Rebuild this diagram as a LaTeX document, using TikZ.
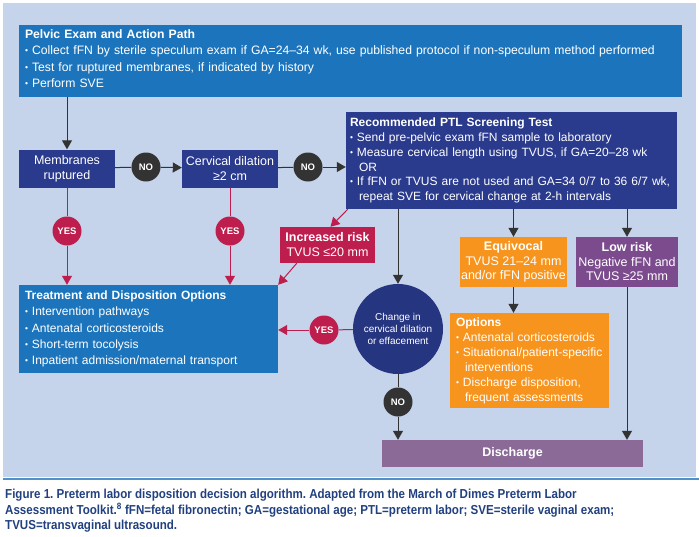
\documentclass[tikz,border=0pt]{standalone}
\usepackage{fontspec}
\setmainfont{Liberation Sans}
\newfontfamily\narrowfont[FakeStretch=0.89]{Liberation Sans}
\usetikzlibrary{arrows.meta}

\definecolor{bgblue}{HTML}{C5D3EB}
\definecolor{topblue}{HTML}{1C75BC}
\definecolor{navy}{HTML}{2A3A8C}
\definecolor{circnavy}{HTML}{263580}
\definecolor{darkgray}{HTML}{333333}
\definecolor{crimson}{HTML}{BE1E4D}
\definecolor{orangebox}{HTML}{F7941D}
\definecolor{lowpurple}{HTML}{7C4B8E}
\definecolor{dispurple}{HTML}{8C6A98}
\definecolor{captionblue}{HTML}{21407F}

\newcommand{\bul}{\raisebox{0.15ex}{\scalebox{0.7}{\textbullet}}\ }

\tikzset{
  cbox/.style={fill=#1, text=white, inner sep=0pt, align=center,
    font=\fontsize{12.5}{15}\selectfont},
  lbox/.style={fill=#1, text=white, inner xsep=6pt, inner ysep=0pt, align=left,
    font=\fontsize{12}{14.8}\selectfont},
  tag/.style={circle, fill=#1, text=white, inner sep=0pt, minimum size=29pt,
    font=\bfseries\fontsize{9.5}{10}\selectfont},
  line/.style={line width=1pt, draw=darkgray},
  redline/.style={line width=1pt, draw=crimson},
  arr/.style={line, -{Triangle[width=10pt,length=9pt]}},
  redarr/.style={redline, -{Triangle[width=10pt,length=9pt]}}
}

\begin{document}
\begin{tikzpicture}[x=1pt, y=-1pt]
    \useasboundingbox (0,0) rectangle (699,536);

    % Background panel and rule
    \fill[bgblue] (3,3) rectangle (696,477);
    \draw[line width=1.5pt, draw=topblue!70!bgblue] (3,479) -- (699,479);

    % Top box
    \node[lbox=topblue, text width=651pt, minimum height=72pt,
          font=\fontsize{12.2}{16.5}\selectfont] (pelvic) at (350.5,61) {};
    \node[lbox=topblue, text width=651pt, inner ysep=0pt,
          font=\fontsize{12.2}{16.5}\selectfont] (pelvictext) at (350.5,58.5)
      {\textbf{Pelvic Exam and Action Path}\\
       \bul Collect fFN by sterile speculum exam if GA=24–34 wk, use published protocol if non-speculum method performed\\
       \bul Test for ruptured membranes, if indicated by history\\
       \bul Perform SVE};

    % First row
    \node[cbox=navy, minimum width=96pt, minimum height=38pt] (membranes) at (67,168.5)
      {Membranes\\ruptured};
    \node[cbox=navy, minimum width=96pt, minimum height=38pt] (cervical) at (230,168.5)
      {Cervical dilation\\≥2 cm};
    \node[lbox=navy, text width=323pt, inner xsep=4pt, minimum height=97pt,
          font=\fontsize{12}{14.8}\selectfont] (ptl) at (511.5,160.5)
      {\textbf{Recommended PTL Screening Test}\\
       \bul Send pre-pelvic exam fFN sample to laboratory\\
       \bul Measure cervical length using TVUS, if GA=20–28 wk\\
       \hspace*{0.75em}OR\\
       \bul If fFN or TVUS are not used and GA=34 0/7 to 36 6/7 wk,\\
       \hspace*{0.75em}repeat SVE for cervical change at 2-h intervals};

    % Risk boxes
    \node[cbox=crimson, minimum width=95pt, minimum height=36pt] (incr) at (327.5,245)
      {\textbf{Increased risk}\\TVUS ≤20 mm};
    \node[cbox=orangebox, minimum width=107pt, minimum height=50pt,
          font=\fontsize{12.5}{14.5}\selectfont] (equiv) at (513.5,262)
      {\textbf{Equivocal}\\TVUS 21–24 mm\\and/or fFN positive};
    \node[cbox=lowpurple, minimum width=102pt, minimum height=50pt,
          font=\fontsize{12.5}{14.5}\selectfont] (low) at (627,262)
      {\textbf{Low risk}\\Negative fFN and\\TVUS ≥25 mm};

    % Lower boxes
    \node[lbox=topblue, text width=247pt, minimum height=88pt,
          font=\fontsize{12}{16.3}\selectfont] (treat) at (148.5,329)
      {\textbf{Treatment and Disposition Options}\\
       \bul Intervention pathways\\
       \bul Antenatal corticosteroids\\
       \bul Short-term tocolysis\\
       \bul Inpatient admission/maternal transport};
    \node[circle, fill=circnavy, text=white, inner sep=0pt, minimum size=90pt,
          align=center, font=\fontsize{10}{12}\selectfont] (change) at (398,329)
      {Change in\\cervical dilation\\or effacement};
    \node[lbox=orangebox, text width=147pt, minimum height=95pt,
          font=\fontsize{12}{15}\selectfont] (options) at (529.5,360.5)
      {\textbf{Options}\\
       \bul Antenatal corticosteroids\\
       \bul Situational/patient-specific\\
       \hspace*{0.75em}interventions\\
       \bul Discharge disposition,\\
       \hspace*{0.75em}frequent assessments};
    \node[cbox=dispurple, minimum width=261pt, minimum height=27pt,
          font=\bfseries\fontsize{12.5}{15}\selectfont] (discharge) at (512.5,453.5)
      {Discharge};

    % Yes / No tags
    \node[tag=darkgray] (no1) at (146,167) {NO};
    \node[tag=darkgray] (no2) at (308,167) {NO};
    \node[tag=darkgray] (no3) at (398,402) {NO};
    \node[tag=crimson] (yes1) at (67,231) {YES};
    \node[tag=crimson] (yes2) at (230,231) {YES};
    \node[tag=crimson] (yes3) at (324,330) {YES};

    % Connectors
    \draw[arr] (membranes.north |- pelvic.south) -- (membranes.north);
    \draw[line] (membranes) -- (no1);
    \draw[arr] (no1) -- (cervical);
    \draw[line] (cervical) -- (no2);
    \draw[arr] (no2) -- (no2 -| ptl.west);

    \draw[redline] (membranes) -- (yes1);
    \draw[redarr] (yes1) -- (yes1 |- treat.north);
    \draw[redline] (cervical) -- (yes2);
    \draw[redarr] (yes2) -- (yes2 |- treat.north);
    \draw[redarr] ([xshift=2pt]ptl.south west) -- ([xshift=3pt]incr.north);
    \draw[redarr] ([xshift=17pt]incr.south west) -- (treat.north east);

    \draw[arr] (change.north |- ptl.south) -- (change.north);
    \draw[arr] (equiv.north |- ptl.south) -- (equiv.north);
    \draw[arr] (low.north |- ptl.south) -- (low.north);
    \draw[arr] (equiv.south) -- (equiv.south |- options.north);

    \draw[redline] (change) -- (yes3);
    \draw[redarr] (yes3) -- (yes3 -| treat.east);
    \draw[line] (change) -- (no3);
    \draw[arr] (no3) -- (no3 |- discharge.north);
    \draw[arr] (low.south) -- (low.south |- discharge.north);

    % Caption
    \node[anchor=west, inner sep=0pt, align=left, text=captionblue,
          font=\narrowfont\bfseries\fontsize{13}{15.5}\selectfont\frenchspacing] (caption) at (5,511)
      {Figure 1. Preterm labor disposition decision algorithm. Adapted from the March of Dimes Preterm Labor\\
       Assessment Toolkit.\textsuperscript{8} fFN=fetal fibronectin; GA=gestational age; PTL=preterm labor; SVE=sterile vaginal exam;\\
       TVUS=transvaginal ultrasound.};
\end{tikzpicture}
\end{document}
